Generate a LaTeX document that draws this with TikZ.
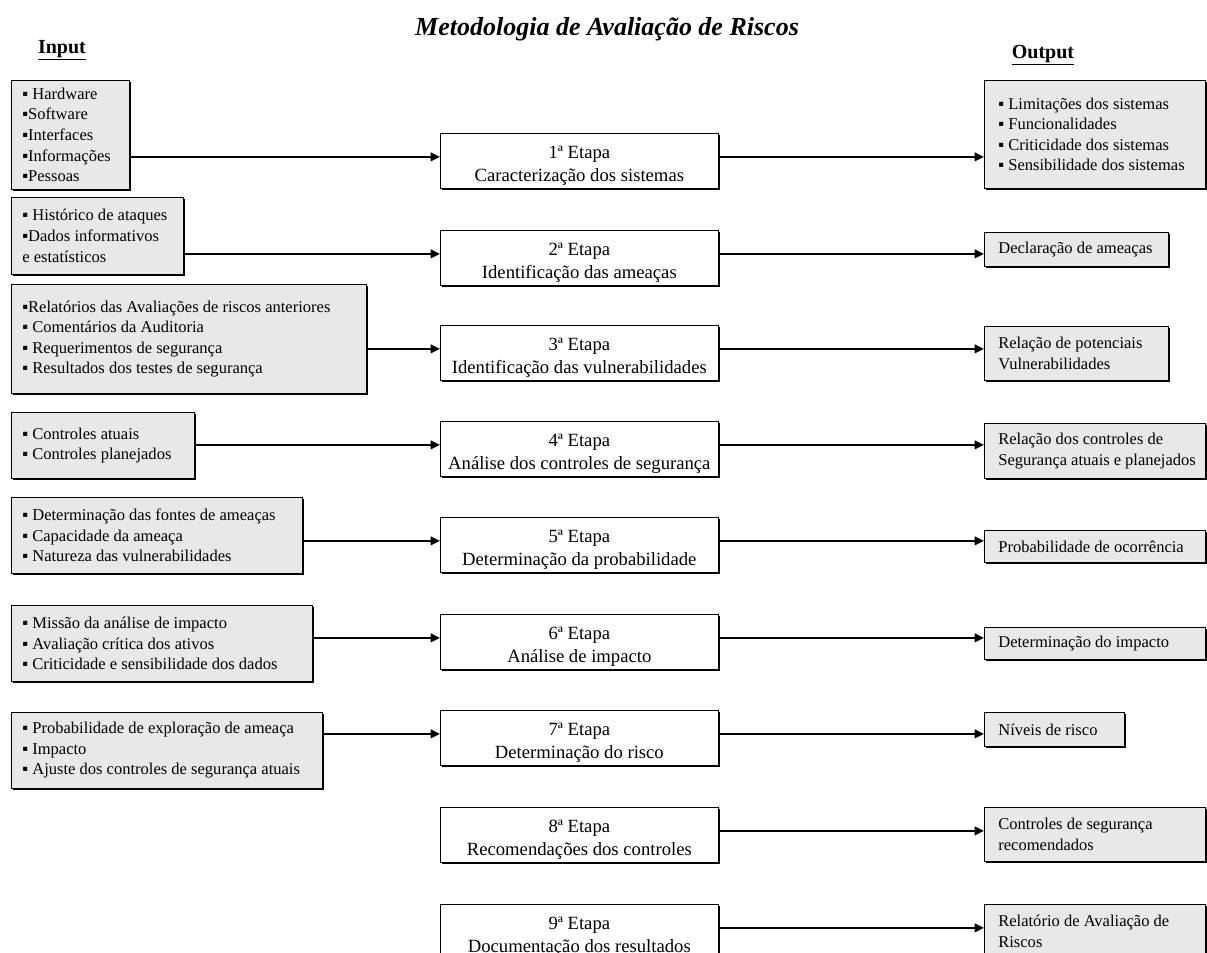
\documentclass[tikz,border=0pt]{standalone}
\usepackage{fontspec}
\setmainfont{Liberation Serif}
\usetikzlibrary{arrows.meta,shadows}
\newdimen\px \px=0.75pt
\definecolor{boxgray}{RGB}{232,232,232}
\newcommand\etapa[2]{\rule{0pt}{17pt}#1ª Etapa\\#2}

\begin{document}
\begin{tikzpicture}[x=0.75pt,y=-0.75pt,
  every node/.style={font=\fontsize{12.4}{15.4}\selectfont},
  shade/.style={drop shadow={shadow xshift=1.5pt,shadow yshift=-1.5pt,fill=black,opacity=1}},
  inbox/.style={draw,line width=0.5pt,fill=boxgray,anchor=north west,align=flush left,inner xsep=11\px,inner ysep=2pt,
    execute at begin node={\rightskip=0pt plus 1fil minus 40pt},shade},
  outbox/.style={inbox,inner xsep=14\px},
  stepbox/.style={draw,line width=0.5pt,fill=white,anchor=north west,align=center,
    minimum width=278\px,minimum height=55\px,inner sep=0pt,
    font=\fontsize{14}{17}\selectfont,shade},
  flow/.style={line width=1.3pt,-{Triangle[length=7pt,width=6.5pt]}}]
\useasboundingbox (0,0) rectangle (1207,953);

% titulos
\node[font=\fontsize{19.5}{22}\selectfont\bfseries\itshape] (title) at (607,29) {Metodologia de Avaliação de Riscos};
\node[font=\fontsize{15}{17}\selectfont\bfseries] (input) at (62,50) {\underline{Input}};
\node[font=\fontsize{15}{17}\selectfont\bfseries] (output) at (1043,55) {\underline{Output}};

% entradas
\node[inbox,text width=96\px,minimum height=109\px] (in1) at (11,80)
  {▪ Hardware\\▪Software\\▪Interfaces\\▪Informações\\▪Pessoas};
\node[inbox,text width=150\px,minimum height=77\px] (in2) at (11,197)
  {▪ Histórico de ataques\\▪Dados informativos\\e estatísticos};
\node[inbox,text width=333\px,minimum height=109\px] (in3) at (11,284)
  {▪Relatórios das Avaliações de riscos anteriores\\▪ Comentários da Auditoria\\▪ Requerimentos de segurança\\▪ Resultados dos testes de segurança};
\node[inbox,text width=161\px,minimum height=66\px] (in4) at (11,412)
  {▪ Controles atuais\\▪ Controles planejados};
\node[inbox,text width=269\px,minimum height=76\px] (in5) at (11,497)
  {▪ Determinação das fontes de ameaças\\▪ Capacidade da ameaça\\▪ Natureza das vulnerabilidades};
\node[inbox,text width=279\px,minimum height=76\px] (in6) at (11,605)
  {▪ Missão da análise de impacto\\▪ Avaliação crítica dos ativos\\▪ Criticidade e sensibilidade dos dados};
\node[inbox,text width=289\px,minimum height=76\px] (in7) at (11,712)
  {▪ Probabilidade de exploração de ameaça\\▪ Impacto\\▪ Ajuste dos controles de segurança atuais};

% etapas
\node[stepbox] (st1) at (440,133) {\etapa{1}{Caracterização dos sistemas}};
\node[stepbox] (st2) at (440,230) {\etapa{2}{Identificação das ameaças}};
\node[stepbox] (st3) at (440,325) {\etapa{3}{Identificação das vulnerabilidades}};
\node[stepbox] (st4) at (440,421) {\etapa{4}{Análise dos controles de segurança}};
\node[stepbox] (st5) at (440,517) {\etapa{5}{Determinação da probabilidade}};
\node[stepbox] (st6) at (440,614) {\etapa{6}{Análise de impacto}};
\node[stepbox] (st7) at (440,710) {\etapa{7}{Determinação do risco}};
\node[stepbox] (st8) at (440,807) {\etapa{8}{Recomendações dos controles}};
\node[stepbox] (st9) at (440,904) {\etapa{9}{Documentação dos resultados}};

% saidas
\node[outbox,text width=193\px,minimum height=108\px] (out1) at (984,80)
  {▪ Limitações dos sistemas\\▪ Funcionalidades\\▪ Criticidade dos sistemas\\▪ Sensibilidade dos sistemas};
\node[outbox,text width=156\px,minimum height=34\px] (out2) at (984,232) {Declaração de ameaças};
\node[outbox,text width=156\px,minimum height=54\px] (out3) at (984,326) {Relação de potenciais\\Vulnerabilidades};
\node[outbox,text width=193\px,minimum height=55\px] (out4) at (984,423) {Relação dos controles de\\Segurança atuais e planejados};
\node[outbox,text width=193\px,minimum height=32\px] (out5) at (984,530) {Probabilidade de ocorrência};
\node[outbox,text width=193\px,minimum height=32\px] (out6) at (984,627) {Determinação do impacto};
\node[outbox,text width=112\px,minimum height=34\px] (out7) at (984,712) {Níveis de risco};
\node[outbox,text width=193\px,minimum height=54\px] (out8) at (984,807) {Controles de segurança\\recomendados};
\node[outbox,text width=193\px,minimum height=54\px] (out9) at (984,904) {Relatório de Avaliação de\\Riscos};

% setas
\foreach \i in {1,...,7}
  \draw[flow] ([yshift=3pt]st\i.west -| in\i.east) -- ([yshift=3pt]st\i.west);
\foreach \i in {1,...,9}
  \draw[flow] ([yshift=3pt]st\i.east) -- ([yshift=3pt]st\i.east -| out\i.west);
\end{tikzpicture}
\end{document}
